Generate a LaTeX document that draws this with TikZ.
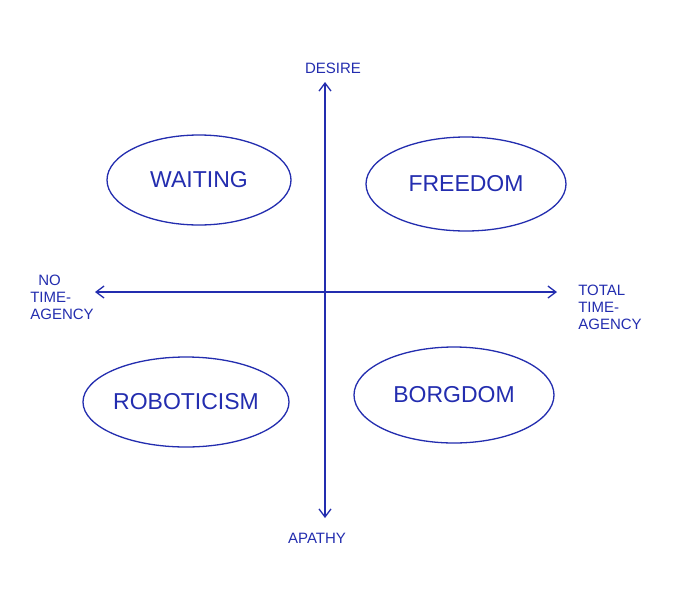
\documentclass[tikz,border=0pt]{standalone}
\usepackage{fontspec}
\setmainfont{Liberation Sans}
\usetikzlibrary{shapes.geometric,arrows.meta}
\definecolor{ink}{RGB}{35,45,175}
\begin{document}
\begin{tikzpicture}[x=1pt,y=-1pt,
  ax/.style={draw=ink,line width=1.3pt,->,>={Straight Barb[length=8pt,width=12pt]}},
  blob/.style={ellipse,draw=ink,line width=1.3pt,text=ink,inner sep=0pt,font=\fontsize{23}{23}\selectfont},
  lab/.style={text=ink,font=\fontsize{15}{17}\selectfont,align=left}]
\useasboundingbox (0,0) rectangle (680,603);
\fill[white] (0,0) rectangle (680,603);
\coordinate (c) at (325,292);
\coordinate (t) at (325,82);
\coordinate (b) at (325,518);
\coordinate (l) at (95,292);
\coordinate (r) at (557,292);
\draw[ax] (c) -- (t);
\draw[ax] (c) -- (b);
\draw[ax] (c) -- (l);
\draw[ax] (c) -- (r);
\node[lab] (d) at (333,68) {DESIRE};
\node[lab] (a) at (317,538) {APATHY};
\node[lab] (n) at (62,297) {\hspace*{8pt}NO\\TIME-\\AGENCY};
\node[lab] (tt) at (610,307) {TOTAL\\TIME-\\AGENCY};
\node[blob,minimum width=184pt,minimum height=90pt] (w) at (199,180) {WAITING};
\node[blob,minimum width=200pt,minimum height=94pt] (f) at (466,184) {FREEDOM};
\node[blob,minimum width=204pt,minimum height=90pt] (ro) at (186,402) {ROBOTICISM};
\node[blob,minimum width=200pt,minimum height=96pt] (bo) at (454,395) {BORGDOM};
\end{tikzpicture}
\end{document}
